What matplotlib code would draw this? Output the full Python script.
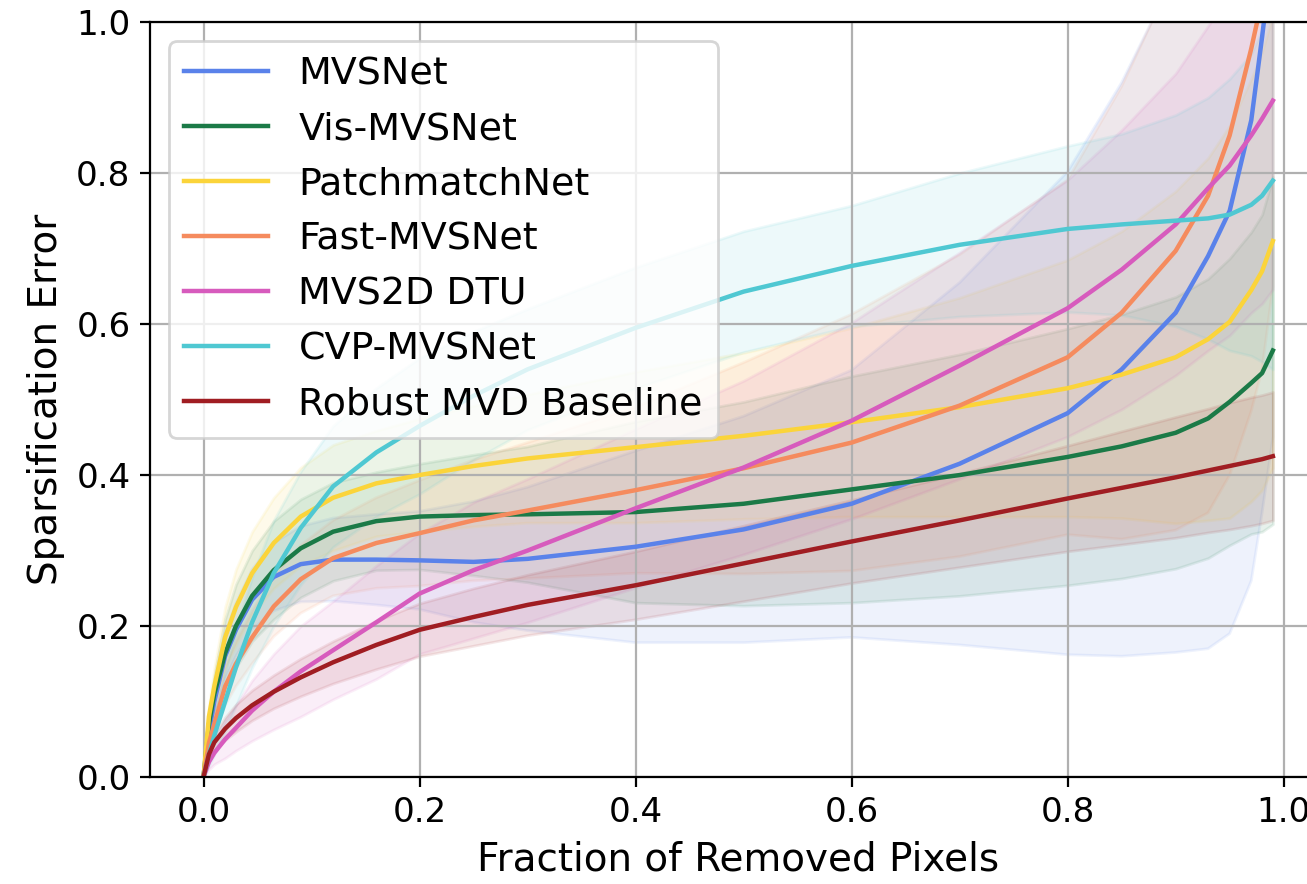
import numpy as np
import matplotlib
matplotlib.use("Agg")
import matplotlib.pyplot as plt

# fraction of removed pixels (sample positions)
frac = [0, 0.005, 0.01, 0.02, 0.03, 0.045, 0.065, 0.09, 0.12, 0.16, 0.2, 0.25,
        0.3, 0.4, 0.5, 0.6, 0.7, 0.8, 0.85, 0.9, 0.93, 0.95, 0.97, 0.98, 0.99]

methods = ["MVSNet", "Vis-MVSNet", "PatchmatchNet", "Fast-MVSNet",
           "MVS2D DTU", "CVP-MVSNet", "Robust MVD Baseline"]
colors = ["#5a82ea", "#1b7a47", "#fbd43a", "#f58b5e",
          "#d75bbd", "#4fc8d2", "#a01d22"]

# mean sparsification error per method
mvsnet = [0, 0.06, 0.10, 0.16, 0.195, 0.235, 0.265, 0.282, 0.288, 0.288, 0.287, 0.285,
          0.289, 0.305, 0.328, 0.362, 0.415, 0.482, 0.54, 0.615, 0.69, 0.75, 0.87, 0.98, 1.10]
vis_mvsnet = [0, 0.07, 0.11, 0.164, 0.20, 0.24, 0.274, 0.303, 0.325, 0.339, 0.345, 0.347,
              0.348, 0.351, 0.362, 0.381, 0.40, 0.424, 0.438, 0.456, 0.475, 0.497, 0.522, 0.535, 0.565]
patchmatch = [0, 0.08, 0.12, 0.185, 0.225, 0.27, 0.31, 0.345, 0.37, 0.389, 0.40, 0.412,
              0.422, 0.437, 0.452, 0.47, 0.49, 0.515, 0.533, 0.556, 0.58, 0.603, 0.645, 0.67, 0.71]
fast_mvsnet = [0, 0.045, 0.07, 0.12, 0.15, 0.185, 0.226, 0.262, 0.29, 0.31, 0.323, 0.34,
               0.353, 0.38, 0.409, 0.443, 0.492, 0.556, 0.615, 0.697, 0.77, 0.85, 0.965, 1.03, 1.15]
mvs2d = [0, 0.02, 0.032, 0.05, 0.065, 0.088, 0.113, 0.14, 0.168, 0.205, 0.243, 0.274,
         0.30, 0.356, 0.41, 0.472, 0.545, 0.621, 0.672, 0.732, 0.78, 0.81, 0.85, 0.872, 0.896]
cvp_mvsnet = [0, 0.03, 0.055, 0.10, 0.145, 0.205, 0.27, 0.33, 0.385, 0.43, 0.465, 0.505,
              0.54, 0.595, 0.643, 0.677, 0.705, 0.726, 0.732, 0.737, 0.74, 0.745, 0.758, 0.77, 0.79]
robust = [0, 0.03, 0.046, 0.064, 0.078, 0.095, 0.113, 0.132, 0.152, 0.175, 0.195, 0.212,
          0.228, 0.254, 0.283, 0.312, 0.34, 0.369, 0.383, 0.397, 0.406, 0.412, 0.418, 0.421, 0.425]

# standard deviation per method
mvsnet_std = [0, 0.01, 0.02, 0.03, 0.035, 0.04, 0.045, 0.05, 0.055, 0.06, 0.065, 0.08,
              0.095, 0.127, 0.15, 0.177, 0.24, 0.32, 0.38, 0.45, 0.52, 0.56, 0.61, 0.63, 0.65]
vis_std = [0, 0.015, 0.025, 0.045, 0.055, 0.06, 0.065, 0.065, 0.065, 0.065, 0.07, 0.08,
           0.09, 0.12, 0.135, 0.15, 0.16, 0.17, 0.175, 0.18, 0.185, 0.19, 0.20, 0.21, 0.23]
patchmatch_std = [0, 0.015, 0.025, 0.04, 0.05, 0.055, 0.06, 0.065, 0.07, 0.07, 0.075, 0.08,
                  0.085, 0.10, 0.11, 0.125, 0.145, 0.17, 0.19, 0.22, 0.24, 0.26, 0.28, 0.29, 0.30]
fast_std = [0, 0.01, 0.015, 0.025, 0.03, 0.035, 0.04, 0.045, 0.05, 0.06, 0.07, 0.08,
            0.09, 0.11, 0.14, 0.17, 0.20, 0.235, 0.30, 0.37, 0.42, 0.45, 0.48, 0.49, 0.50]
mvs2d_std = [0, 0.01, 0.015, 0.025, 0.03, 0.04, 0.05, 0.06, 0.065, 0.075, 0.08, 0.09,
             0.095, 0.105, 0.115, 0.13, 0.15, 0.17, 0.185, 0.20, 0.215, 0.225, 0.235, 0.245, 0.25]
cvp_std = [0, 0.015, 0.025, 0.04, 0.05, 0.06, 0.07, 0.075, 0.08, 0.085, 0.09, 0.085,
           0.08, 0.08, 0.08, 0.08, 0.095, 0.11, 0.12, 0.14, 0.16, 0.18, 0.20, 0.22, 0.25]
robust_std = [0, 0.005, 0.01, 0.015, 0.018, 0.02, 0.022, 0.025, 0.028, 0.032, 0.035, 0.038,
              0.04, 0.045, 0.05, 0.055, 0.062, 0.07, 0.075, 0.08, 0.082, 0.084, 0.085, 0.085, 0.085]

means = [mvsnet, vis_mvsnet, patchmatch, fast_mvsnet, mvs2d, cvp_mvsnet, robust]
stds = [mvsnet_std, vis_std, patchmatch_std, fast_std, mvs2d_std, cvp_std, robust_std]

plt.rcParams["font.family"] = ["DejaVu Sans"]
plt.rcParams["font.size"] = 12

# the right edge of the axes runs past the figure, as in the cropped original
fig = plt.figure(figsize=(6.535, 4.42), dpi=200)
ax = fig.add_axes([0.1148, 0.121, 0.90, 0.854])

x = np.array(frac)
for name, c, m, s in zip(methods, colors, means, stds):
    m = np.array(m)
    s = np.array(s)
    ax.fill_between(x, m - s, m + s, color=c, alpha=0.1)
for name, c, m in zip(methods, colors, means):
    ax.plot(x, m, color=c, lw=1.6, label=name)

ax.set_xlim(-0.0495, 1.0395)
ax.set_ylim(0, 1.0)
ax.set_xticks([0.0, 0.2, 0.4, 0.6, 0.8, 1.0])
ax.set_yticks([0.0, 0.2, 0.4, 0.6, 0.8, 1.0])
ax.tick_params(labelsize=12.3)
ax.grid(True, color="#b0b0b0", lw=0.8)
ax.set_xlabel("Fraction of Removed Pixels", fontsize=14)
ax.set_ylabel("Sparsification Error", fontsize=14)
ax.legend(loc="upper left", handlelength=2.2, fontsize=13.7)

fig.savefig("out.png", dpi=200)
